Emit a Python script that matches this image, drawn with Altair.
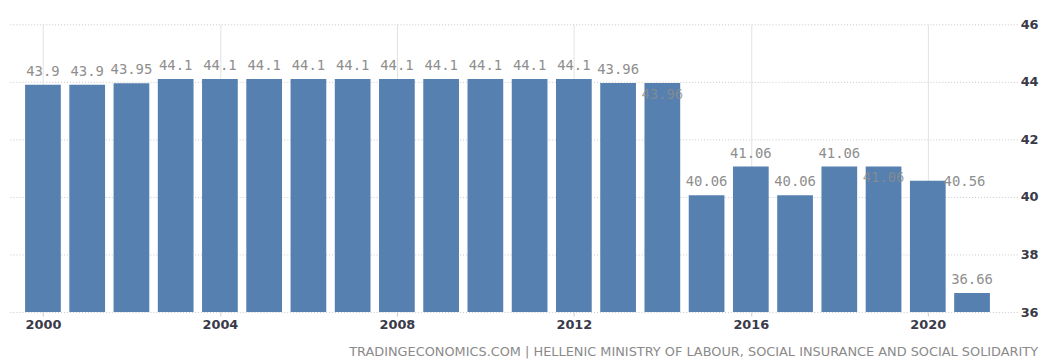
import altair as alt
import pandas as pd

years = list(range(2000, 2022))
values = [43.9, 43.9, 43.95, 44.1, 44.1, 44.1, 44.1, 44.1, 44.1, 44.1, 44.1, 44.1, 44.1,
          43.96, 43.96, 40.06, 41.06, 40.06, 41.06, 41.06, 40.56, 36.66]
labels = [str(v) for v in values]
y_ticks = [36, 38, 40, 42, 44, 46]
x_ticks = [2000, 2004, 2008, 2012, 2016, 2020]
footer = "TRADINGECONOMICS.COM  |  HELLENIC MINISTRY OF LABOUR, SOCIAL INSURANCE AND SOCIAL SOLIDARITY"

df = pd.DataFrame({"year": years, "value": values, "label": labels})

inside_years = [2014, 2019]
shifted_years = [2020]
normal_years = [y for y in years if y not in inside_years + shifted_years]

x_enc = alt.X(
    "year:Q",
    scale=alt.Scale(domain=[1999.21, 2022.02], nice=False, zero=False, padding=0),
    axis=alt.Axis(
        values=x_ticks, format="d", title=None, orient="bottom",
        grid=True, gridColor="#e2e2e2", gridWidth=1,
        domain=False, ticks=True, tickSize=4, tickColor="#cccccc",
        labelFont="DejaVu Sans", labelFontWeight="bold", labelFontSize=13,
        labelColor="#3a3a48", labelPadding=3,
    ),
)
y_enc = alt.Y(
    "value:Q",
    scale=alt.Scale(domain=[36, 46], nice=False, zero=False),
    axis=alt.Axis(
        values=y_ticks, title=None, orient="right",
        grid=True, gridColor="#c8c8c8", gridDash=[1, 2], gridWidth=1,
        domain=False, ticks=False, labelPadding=3,
        labelFont="DejaVu Sans", labelFontWeight="bold", labelFontSize=13,
        labelColor="#3a3a48",
    ),
)

base = alt.Chart(df)

bars = base.mark_bar(size=36, color="#5580b0").encode(
    x=x_enc, y=y_enc, y2=alt.datum(36)
)

text_style = dict(font="DejaVu Sans Mono", fontSize=14, color="#8e8e8e", align="center", baseline="middle")

lab_normal = base.transform_filter(
    alt.FieldOneOfPredicate(field="year", oneOf=normal_years)
).mark_text(dy=-13, **text_style).encode(x="year:Q", y="value:Q", text="label:N")

lab_inside = base.transform_filter(
    alt.FieldOneOfPredicate(field="year", oneOf=inside_years)
).mark_text(dy=12, opacity=0.8, **text_style).encode(x="year:Q", y="value:Q", text="label:N")

lab_shift = base.transform_filter(
    alt.FieldOneOfPredicate(field="year", oneOf=shifted_years)
).mark_text(dx=37, dy=1, **text_style).encode(x="year:Q", y="value:Q", text="label:N")

chart = alt.layer(bars, lab_normal, lab_inside, lab_shift).properties(
    width=1017,
    height=290,
    autosize=alt.AutoSizeParams(type="none"),
    padding={"left": 0, "top": 15, "right": 22, "bottom": 56},
    title=alt.TitleParams(
        footer, orient="bottom", anchor="end", font="DejaVu Sans", fontSize=13,
        fontWeight="normal", color="#8a8a8a", offset=14,
    ),
).configure_view(stroke=None)

chart.save("out.html", embed_options={"renderer": "svg", "actions": False})
